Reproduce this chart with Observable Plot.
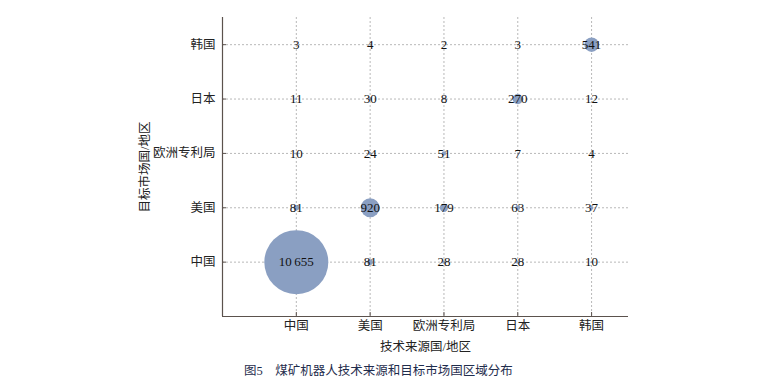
<!DOCTYPE html>
<html>
<head>
<meta charset="utf-8">
<script src="https://cdn.jsdelivr.net/npm/d3@7"></script>
<script src="https://cdn.jsdelivr.net/npm/@observablehq/plot@0.6"></script>
<style>
  html, body { margin: 0; padding: 0; background: #fff; }
  #wrap { width: 757px; position: relative; }
  #caption { width: 757px; text-align: center; font-family: "Liberation Serif", "Noto Sans CJK SC", serif; font-size: 12.5px; color: #1f2d4d; margin-top: 4px; }
</style>
</head>
<body>
<div id="wrap"></div>
<div id="caption">图5　煤矿机器人技术来源和目标市场国区域分布</div>
<script>
// Technology source (x) and target market (y)
const sources = ["中国", "美国", "欧洲专利局", "日本", "韩国"];
const targets = ["中国", "美国", "欧洲专利局", "日本", "韩国"];
// values[targetIndex][sourceIndex]
const valuesChina  = [10655, 81, 28, 28, 10];
const valuesUSA    = [81, 920, 179, 63, 37];
const valuesEPO    = [10, 24, 51, 7, 4];
const valuesJapan  = [11, 30, 8, 270, 12];
const valuesKorea  = [3, 4, 2, 3, 541];
const rows = [valuesChina, valuesUSA, valuesEPO, valuesJapan, valuesKorea];

const data = [];
rows.forEach((row, ti) => row.forEach((v, si) => data.push({source: si + 1, target: ti + 1, value: v})));

const pos = [1, 2, 3, 4, 5];
const fmt = v => v >= 10000 ? d3.format(",")(v).replace(",", "\u2009") : String(v);
const axisColor = "#5b524d";
const font = "'Liberation Serif', 'Noto Sans CJK SC', serif";

const chart = Plot.plot({
  width: 757,
  height: 356,
  marginLeft: 222,
  marginRight: 129,
  marginTop: 17,
  marginBottom: 40,
  style: {fontFamily: font, fontSize: "12.5px", color: "#222", background: "#fff"},
  x: {type: "linear", domain: [0, 5.5]},
  y: {type: "linear", domain: [0, 5.5]},
  r: {type: "sqrt", domain: [0, 10655], range: [0, 32]},
  marks: [
    Plot.gridX(pos, {stroke: "#b8b8b8", strokeOpacity: 1, strokeDasharray: "2,2"}),
    Plot.gridY(pos, {stroke: "#b8b8b8", strokeOpacity: 1, strokeDasharray: "2,2"}),
    Plot.dot(data, {x: "source", y: "target", r: "value", fill: "#8a9fc2", fillOpacity: 1, stroke: "none"}),
    Plot.text(data, {x: "source", y: "target", text: d => fmt(d.value), fontSize: 13, fill: "#111"}),
    Plot.axisX(pos, {tickFormat: (d) => sources[d - 1], tickSize: -4, tickPadding: 9, stroke: axisColor,
      label: "技术来源国/地区", labelAnchor: "center", labelArrow: "none", labelOffset: 34, fontSize: 12.5}),
    Plot.axisY(pos, {tickFormat: (d) => targets[d - 1], tickSize: -4, tickPadding: 11, stroke: axisColor,
      label: "目标市场国/地区", labelAnchor: "center", labelArrow: "none", labelOffset: 82, fontSize: 12.5}),
    Plot.ruleX([0], {stroke: axisColor, strokeWidth: 1.2}),
    Plot.ruleY([0], {stroke: axisColor, strokeWidth: 1.2})
  ]
});
document.getElementById("wrap").appendChild(chart);
</script>
</body>
</html>
